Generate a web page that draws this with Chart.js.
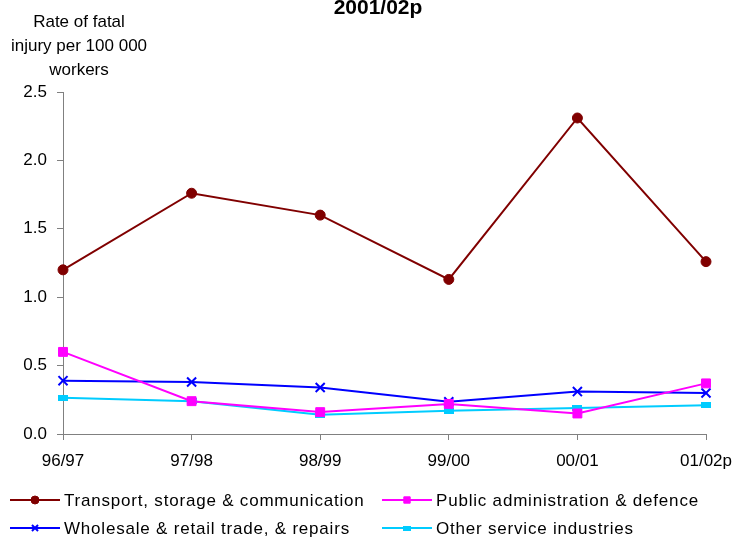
<!DOCTYPE html>
<html>
<head>
<meta charset="utf-8">
<script src="https://cdn.jsdelivr.net/npm/chart.js@4.4.1/dist/chart.umd.min.js"></script>
<style>
  html, body { margin: 0; padding: 0; background: #fff; }
  #wrap { width: 734px; height: 556px; }
</style>
</head>
<body>
<div id="wrap"><canvas id="chart" width="734" height="556"></canvas></div>
<script>
const years = ["96/97", "97/98", "98/99", "99/00", "00/01", "01/02p"];
const transport = [1.20, 1.76, 1.60, 1.13, 2.31, 1.26];
const publicAdmin = [0.60, 0.24, 0.16, 0.22, 0.15, 0.37];
const wholesale = [0.39, 0.38, 0.34, 0.235, 0.31, 0.30];
const otherServices = [0.265, 0.24, 0.14, 0.17, 0.19, 0.21];
const yTicks = [0, 0.5, 1.0, 1.5, 2.0, 2.5];
const titleText = "2001/02p";
const yTitle = ["Rate of fatal", "injury per 100 000", "workers"];

const FONT = "'Liberation Sans', Arial, sans-serif";

// flat rectangle marker for the cyan series
function flatRect(w, h) {
  const c = document.createElement('canvas');
  c.width = w;
  c.height = h;
  const g = c.getContext('2d');
  g.fillStyle = '#00CCFF';
  g.fillRect(0, 0, w, h);
  return c;
}
const cyanRect = flatRect(10, 6);
const cyanRectSmall = flatRect(8, 5);

const chart = document.querySelector("#chart").getContext('2d');

// title, axis title and legend drawn by hand
const extras = {
  id: 'extras',
  afterDraw(c) {
    const ctx = c.ctx;
    ctx.save();
    ctx.fillStyle = '#000';
    ctx.textAlign = 'center';
    ctx.textBaseline = 'alphabetic';
    ctx.font = "bold 21px " + FONT;
    ctx.fillText(titleText, 378, 14);

    ctx.font = "17px " + FONT;
    yTitle.forEach((t, i) => ctx.fillText(t, 79, 27 + i * 24));

    // legend
    const pos = [[10, 500], [382, 500], [10, 528], [382, 528]];
    const marks = [
      { pointStyle: 'circle', radius: 4, borderWidth: 1 },
      { pointStyle: 'rect', radius: 4.5, borderWidth: 1 },
      { pointStyle: 'crossRot', radius: 4.3, borderWidth: 2 },
      { pointStyle: cyanRectSmall, radius: 4, borderWidth: 1 }
    ];
    ctx.textAlign = 'left';
    ctx.textBaseline = 'middle';
    ctx.font = "17px " + FONT;
    ctx.letterSpacing = '0.8px';
    c.data.datasets.forEach((ds, i) => {
      const [x, y] = pos[i];
      ctx.strokeStyle = ds.borderColor;
      ctx.fillStyle = ds.backgroundColor;
      ctx.lineWidth = 2;
      ctx.beginPath();
      ctx.moveTo(x, y);
      ctx.lineTo(x + 50, y);
      ctx.stroke();
      ctx.lineWidth = marks[i].borderWidth;
      Chart.helpers.drawPoint(ctx, Object.assign({ rotation: 0 }, marks[i]), x + 25, y);
      ctx.fillStyle = '#000';
      ctx.fillText(ds.label, x + 54, y + 1);
    });
    ctx.restore();
  }
};

new Chart(chart, {
  type: 'line',
  data: {
    labels: years,
    datasets: [
      {
        label: "Transport, storage & communication",
        data: transport,
        borderColor: '#800000',
        backgroundColor: '#800000',
        borderWidth: 2,
        pointStyle: 'circle',
        pointRadius: 5,
        pointBorderWidth: 1
      },
      {
        label: "Public administration & defence",
        data: publicAdmin,
        borderColor: '#FF00FF',
        backgroundColor: '#FF00FF',
        borderWidth: 2,
        pointStyle: 'rect',
        pointRadius: 6.3,
        pointBorderWidth: 1
      },
      {
        label: "Wholesale & retail trade, & repairs",
        data: wholesale,
        borderColor: '#0000FF',
        backgroundColor: '#0000FF',
        borderWidth: 2,
        pointStyle: 'crossRot',
        pointRadius: 6.4,
        pointBorderWidth: 2
      },
      {
        label: "Other service industries",
        data: otherServices,
        borderColor: '#00CCFF',
        backgroundColor: '#00CCFF',
        borderWidth: 2,
        pointStyle: cyanRect,
        pointRadius: 5,
        pointBorderWidth: 1
      }
    ]
  },
  options: {
    responsive: false,
    animation: false,
    events: [],
    layout: { padding: { left: 0, right: 28, top: 92, bottom: 0 } },
    plugins: {
      legend: { display: false },
      title: { display: false },
      tooltip: { enabled: false }
    },
    elements: { line: { tension: 0 } },
    scales: {
      x: {
        offset: false,
        grid: { drawOnChartArea: false, drawTicks: true, tickLength: 6, color: '#808080' },
        border: { color: '#808080', width: 1 },
        ticks: { color: '#000', font: { family: FONT, size: 17 }, padding: 11, maxRotation: 0 },
        afterFit(scale) {
          scale.height = 122;
          scale.paddingLeft = 0;
          scale.paddingRight = 0;
        }
      },
      y: {
        min: 0,
        max: 2.5,
        afterBuildTicks(scale) { scale.ticks = yTicks.map(v => ({ value: v })); },
        grid: { drawOnChartArea: false, drawTicks: true, tickLength: 6, color: '#808080' },
        border: { color: '#808080', width: 1 },
        ticks: {
          color: '#000',
          font: { family: FONT, size: 17 },
          padding: 10,
          callback: v => v.toFixed(1)
        },
        afterFit(scale) {
          scale.width = 63;
          scale.paddingTop = 0;
          scale.paddingBottom = 0;
        }
      }
    }
  },
  plugins: [extras]
});
</script>
</body>
</html>
